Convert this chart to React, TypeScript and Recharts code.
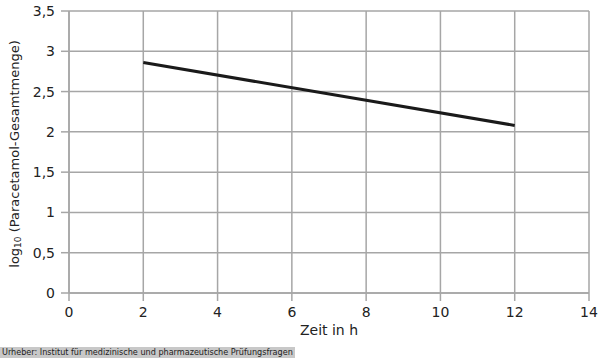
import React from "react";
import {
  LineChart,
  Line,
  XAxis,
  YAxis,
  CartesianGrid,
  Label,
} from "recharts";

const zeit = [2, 12];
const logMenge = [2.86, 2.08];
const xTicks = [0, 2, 4, 6, 8, 10, 12, 14];
const yTicks = [0, 0.5, 1, 1.5, 2, 2.5, 3, 3.5];

const data = zeit.map((t, i) => ({ t, v: logMenge[i] }));

const FONT = "'DejaVu Sans', Verdana, sans-serif";
const GRAY = "#a6a6a6";

// y axis title with subscript 10
const YTitle = (props: any) => {
  const { viewBox } = props;
  const cx = 14;
  const cy = viewBox.y + viewBox.height / 2 + 2;
  return (
    <text
      x={cx}
      y={cy}
      transform={`rotate(-90, ${cx}, ${cy})`}
      textAnchor="middle"
      dominantBaseline="central"
      fontFamily={FONT}
      fontSize={13}
      fill="#222"
    >
      log
      <tspan fontSize={9} dy={4}>
        10
      </tspan>
      <tspan dy={-4}> (Paracetamol-Gesamtmenge)</tspan>
    </text>
  );
};

export default function App() {
  return (
    <div style={{ position: "absolute", left: 0, top: 0, width: 600, height: 360, background: "#fff" }}>
      <LineChart
        width={600}
        height={340}
        data={data}
        margin={{ top: 11, right: 11, bottom: 0, left: 0 }}
      >
        <CartesianGrid stroke={GRAY} strokeWidth={1.5} />
        <XAxis
          dataKey="t"
          type="number"
          domain={[0, 14]}
          ticks={xTicks}
          height={47}
          tickSize={8}
          tickMargin={6}
          stroke={GRAY}
          strokeWidth={1.5}
          tick={{ fill: "#222", fontSize: 14, fontFamily: FONT }}
          interval={0}
        >
          <Label
            value="Zeit in h"
            position="insideBottom"
            offset={5}
            style={{ fill: "#222", fontSize: 14, fontFamily: FONT }}
          />
        </XAxis>
        <YAxis
          type="number"
          domain={[0, 3.5]}
          ticks={yTicks}
          width={69}
          tickSize={8}
          tickMargin={6}
          stroke={GRAY}
          strokeWidth={1.5}
          interval={0}
          tickFormatter={(v: number) => String(v).replace(".", ",")}
          tick={{ fill: "#222", fontSize: 14, fontFamily: FONT }}
        >
          <Label content={<YTitle />} />
        </YAxis>
        <Line
          type="linear"
          dataKey="v"
          stroke="#1a1a1a"
          strokeWidth={3}
          dot={false}
          isAnimationActive={false}
        />
      </LineChart>
      <div
        style={{
          position: "absolute",
          left: 0,
          top: 347,
          height: 11,
          lineHeight: "11px",
          padding: "0 2px",
          background: "#c8c8c8",
          fontFamily: "'DejaVu Sans Condensed', 'DejaVu Sans', sans-serif",
          fontStretch: "condensed",
          fontSize: 9,
          color: "#222",
          whiteSpace: "nowrap",
        }}
      >
        Urheber: Institut für medizinische und pharmazeutische Prüfungsfragen
      </div>
    </div>
  );
}
